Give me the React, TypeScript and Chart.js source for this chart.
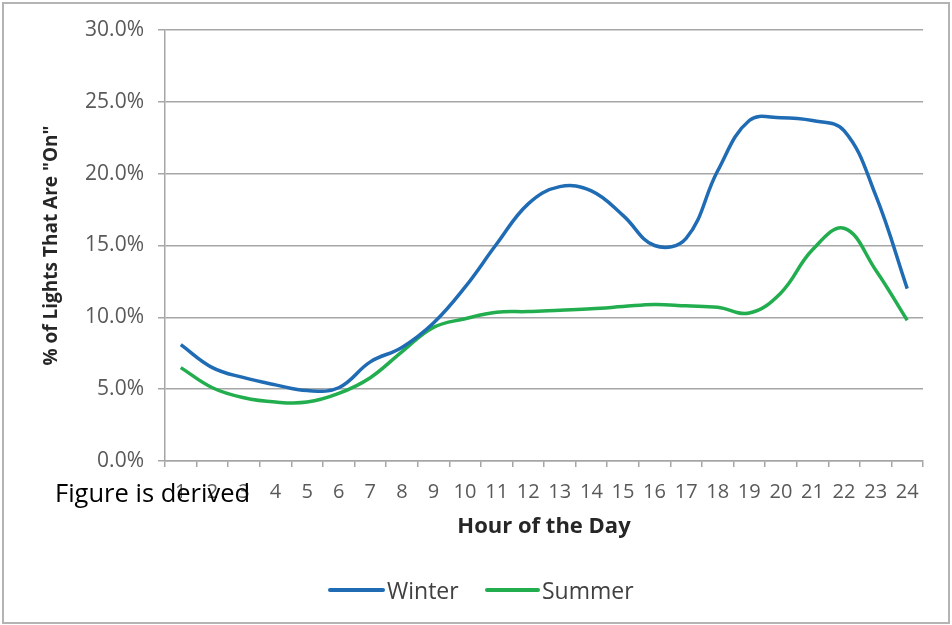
import React, { useEffect, useRef } from "react";
import { Chart, registerables } from "chart.js";

Chart.register(...registerables);

const hours = ["1","2","3","4","5","6","7","8","9","10","11","12","13","14","15","16","17","18","19","20","21","22","23","24"];
const winter = [8.1, 6.5, 5.8, 5.3, 4.9, 5.1, 6.9, 7.9, 9.6, 12.1, 15.1, 17.9, 19.1, 18.8, 17.1, 15.0, 15.5, 20.2, 23.7, 23.9, 23.7, 23.0, 18.5, 12.0];
const summer = [6.5, 5.1, 4.4, 4.1, 4.1, 4.7, 5.8, 7.6, 9.3, 9.9, 10.35, 10.4, 10.5, 10.6, 10.75, 10.9, 10.8, 10.7, 10.3, 11.7, 14.7, 16.2, 13.3, 9.8];
const yTicks = [0, 5, 10, 15, 20, 25, 30];
const seriesNames = ["Winter", "Summer"];
const seriesColors = ["#1F6CB4", "#22AE4E"];

const FONT = "'Open Sans', 'Liberation Sans', sans-serif";

const framePlugin = {
  id: "frame",
  beforeDraw(chart: any) {
    const ctx = chart.ctx;
    ctx.save();
    ctx.fillStyle = "#ffffff";
    ctx.fillRect(0, 0, chart.width, chart.height);
    ctx.strokeStyle = "#b4b4b4";
    ctx.lineWidth = 2;
    ctx.strokeRect(3, 3, chart.width - 6, chart.height - 5);
    ctx.restore();
  },
};

export default function App() {
  const ref = useRef<HTMLCanvasElement | null>(null);
  useEffect(() => {
    if (!ref.current) return;
    const chart = new Chart(ref.current, {
      type: "line",
      data: {
        labels: hours,
        datasets: [
          { label: seriesNames[0], data: winter, borderColor: seriesColors[0], backgroundColor: seriesColors[0], borderWidth: 3.5, pointRadius: 0, tension: 0.4 },
          { label: seriesNames[1], data: summer, borderColor: seriesColors[1], backgroundColor: seriesColors[1], borderWidth: 3.5, pointRadius: 0, tension: 0.4 },
        ],
      },
      options: {
        animation: false,
        responsive: false,
        maintainAspectRatio: false,
        layout: { padding: { left: 0, right: 29, top: 30, bottom: 70 } },
        plugins: {
          tooltip: { enabled: false },
          legend: { display: false },
        },
        scales: {
          x: {
            offset: true,
            grid: { offset: true, drawOnChartArea: false, color: "#a6a6a6", tickLength: 6, lineWidth: 1.5 },
            border: { color: "#a6a6a6", width: 1.5 },
            ticks: { color: "#595959", font: { family: FONT, size: 20 }, maxRotation: 0, autoSkip: false, padding: 13 },
            title: { display: true, text: "Hour of the Day", color: "#262626", font: { family: FONT, size: 22, weight: "bold" }, padding: { top: 4, bottom: 15 } },
            afterFit: (s: any) => { s.height = 94; },
          },
          y: {
            min: 0,
            max: 30,
            afterBuildTicks: (s: any) => { s.ticks = yTicks.map((v) => ({ value: v })); },
            grid: { color: "#a6a6a6", tickLength: 7, lineWidth: 1.5 },
            border: { color: "#a6a6a6", width: 1.5 },
            ticks: { color: "#595959", font: { family: FONT, size: 21 }, padding: 14, callback: (v: any) => Number(v).toFixed(1) + "%" },
            title: { display: true, text: '% of Lights That Are "On"', color: "#262626", font: { family: FONT, size: 19, weight: "bold" }, padding: { top: 40, bottom: 0 } },
            afterFit: (s: any) => { s.width = 165; },
          },
        },
      },
      plugins: [framePlugin],
    });
    return () => chart.destroy();
  }, []);
  const legendItems = [
    { left: 328, lineW: 57 },
    { left: 485, lineW: 55 },
  ];
  return (
    <div style={{ position: "absolute", left: 0, top: 0, width: 952, height: 625 }}>
      <canvas ref={ref} width={952} height={625} style={{ display: "block" }} />
      <div style={{ position: "absolute", left: 55, top: 477, fontFamily: FONT, fontSize: 25.5, color: "#000", lineHeight: "30px", whiteSpace: "nowrap" }}>
        Figure is derived
      </div>
      {seriesNames.map((name, i) => (
        <div key={name} style={{ position: "absolute", left: legendItems[i].left, top: 575, height: 30, display: "flex", alignItems: "center", fontFamily: FONT, fontSize: 23, color: "#404040", whiteSpace: "nowrap" }}>
          <span style={{ display: "inline-block", width: legendItems[i].lineW, height: 4, background: seriesColors[i], borderRadius: 2, marginRight: 2 }} />
          <span>{name}</span>
        </div>
      ))}
    </div>
  );
}
